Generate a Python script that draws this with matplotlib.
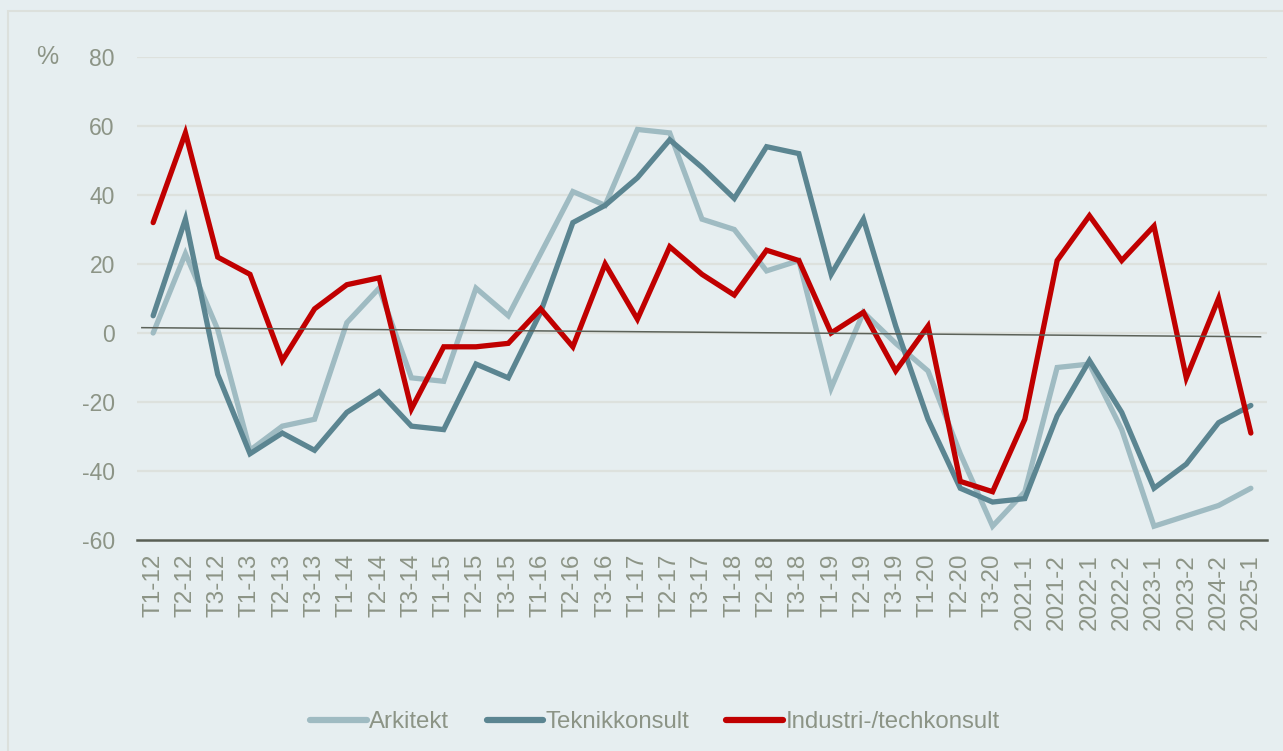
import matplotlib
matplotlib.use("Agg")
import matplotlib.pyplot as plt
from matplotlib.patches import Rectangle

categories = ["T1-12", "T2-12", "T3-12", "T1-13", "T2-13", "T3-13", "T1-14", "T2-14",
              "T3-14", "T1-15", "T2-15", "T3-15", "T1-16", "T2-16", "T3-16", "T1-17",
              "T2-17", "T3-17", "T1-18", "T2-18", "T3-18", "T1-19", "T2-19", "T3-19",
              "T1-20", "T2-20", "T3-20", "2021-1", "2021-2", "2022-1", "2022-2",
              "2023-1", "2023-2", "2024-2", "2025-1"]

arkitekt = [0, 23, 1, -34, -27, -25, 3, 13, -13, -14, 13, 5, 23, 41, 37, 59, 58, 33,
            30, 18, 21, -16, 6, -3, -11, -35, -56, -46, -10, -9, -28, -56, -53, -50, -45]
teknikkonsult = [5, 33, -12, -35, -29, -34, -23, -17, -27, -28, -9, -13, 6, 32, 37, 45,
                 56, 48, 39, 54, 52, 17, 33, 2, -25, -45, -49, -48, -24, -8, -23, -45,
                 -38, -26, -21]
industri = [32, 58, 22, 17, -8, 7, 14, 16, -22, -4, -4, -3, 7, -4, 20, 4, 25, 17, 11,
            24, 21, 0, 6, -11, 2, -43, -46, -25, 21, 34, 21, 31, -13, 10, -29]

# thin reference (trend) line: values at its two ends
ref_x = [-0.35, 34.3]
ref_y = [1.55, -1.1]

yticks = [-60, -40, -20, 0, 20, 40, 60, 80]

series_names = ["Arkitekt", "Teknikkonsult", "Industri-/techkonsult"]
colors = ["#9FBBC2", "#5B8591", "#C00000"]

bg = "#E6EEF0"
txt = "#8C9486"

plt.rcParams["font.family"] = ["Liberation Sans", "DejaVu Sans"]

fig = plt.figure(figsize=(12.83, 7.51), dpi=100, facecolor=bg)
fig.patches.append(Rectangle((8 / 1283, -0.05), 1.2, (751 - 11) / 751 + 0.05,
                             transform=fig.transFigure, fill=False,
                             edgecolor="#DCE0DC", linewidth=1.5))
ax = fig.add_axes([137 / 1283, 1 - 540 / 751, (1267 - 137) / 1283, (540 - 57) / 751])
ax.set_facecolor(bg)

x = list(range(len(categories)))
for vals, name, c in zip([arkitekt, teknikkonsult, industri], series_names, colors):
    ax.plot(x, vals, color=c, lw=3.8, label=name, solid_joinstyle="miter",
            solid_capstyle="round", zorder=3)

ax.plot(ref_x, ref_y, color="#5C6259", lw=1.1, zorder=5)

ax.set_xlim(-0.5, len(categories) - 0.5)
ax.set_ylim(-60, 80)
ax.set_yticks(yticks)
ax.set_yticklabels([str(v) for v in yticks])
ax.set_xticks(x)
ax.set_xticklabels(categories, rotation=90)

for v in yticks[1:]:
    ax.axhline(v, color="#DDE1DD", lw=1.6, zorder=1)

for s in ["top", "right", "left"]:
    ax.spines[s].set_visible(False)
ax.spines["bottom"].set_color("#595F55")
ax.spines["bottom"].set_linewidth(1.8)
ax.spines["bottom"].set_zorder(4)

ax.tick_params(axis="y", length=0, pad=16, labelsize=16.5, labelcolor=txt)
ax.tick_params(axis="x", length=0, pad=10, labelsize=17.5, labelcolor=txt)

fig.text(47 / 1283, 1 - 57 / 751, "%", fontsize=18, color=txt, ha="center", va="center")

leg = fig.legend(loc="center", bbox_to_anchor=(0.5105, 1 - 722 / 751), ncol=3,
                 frameon=False, fontsize=17.3, handlelength=2.35, handletextpad=0.1,
                 columnspacing=1.55, labelcolor=txt)
for h in leg.get_lines():
    h.set_linewidth(4.5)
    h.set_solid_capstyle("round")

fig.savefig("out.png", dpi=100, facecolor=bg)
